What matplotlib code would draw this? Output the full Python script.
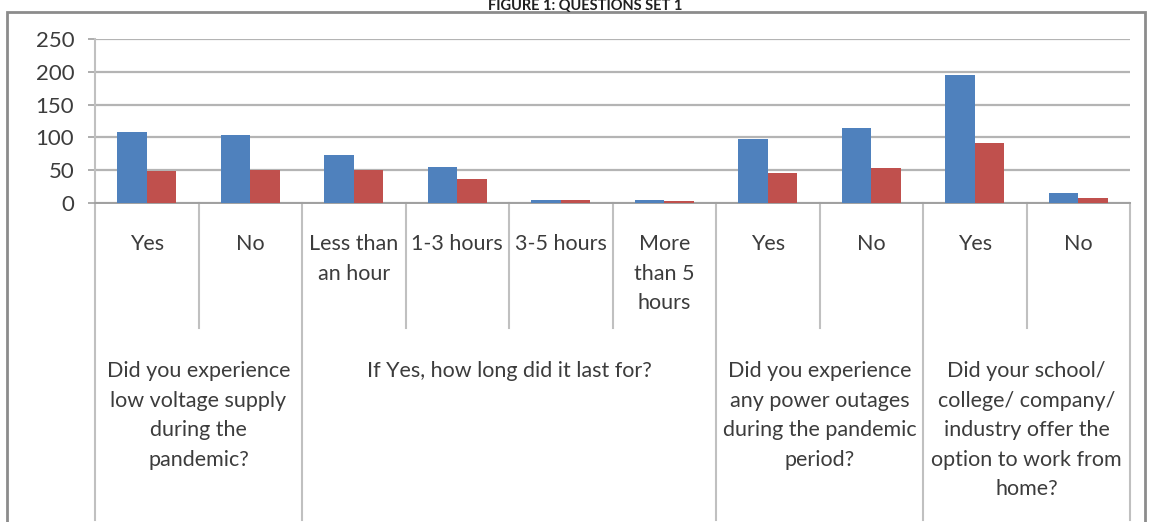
import matplotlib.pyplot as plt
from matplotlib.lines import Line2D
from matplotlib.patches import Rectangle
import numpy as np

plt.rcParams['font.family'] = ['Lato', 'DejaVu Sans']

# answers on the x axis, grouped by question
answers = ["Yes", "No", "Less than\nan hour", "1-3 hours", "3-5 hours",
           "More\nthan 5\nhours", "Yes", "No", "Yes", "No"]
questions = ["Did you experience\nlow voltage supply\nduring the\npandemic?",
             "If Yes, how long did it last for?",
             "Did you experience\nany power outages\nduring the pandemic\nperiod?",
             "Did your school/\ncollege/ company/\nindustry offer the\noption to work from\nhome?"]
group_edges = [-0.5, 1.5, 5.5, 7.5, 9.5]

series_blue = [108, 104, 73, 55, 5, 4, 98, 114, 195, 16]
series_red = [49, 50, 50, 37, 4, 3, 45, 53, 91, 7]

W, H = 1150, 522
fig = plt.figure(figsize=(W / 100, H / 100), dpi=100)

# plot area in pixels: left 95, right 1130, top 39, zero line 203
ax = fig.add_axes([95 / W, 1 - 203 / H, (1130 - 95) / W, (203 - 39) / H])
ax.set_zorder(2)

x = np.arange(len(answers))
bw = 1 / 3.5
ax.bar(x - bw / 2, series_blue, bw, color="#4F81BD", zorder=3)
ax.bar(x + bw / 2, series_red, bw, color="#C0504D", zorder=3)

ax.set_xlim(-0.5, 9.5)
ax.set_ylim(0, 250)
ax.set_yticks(range(0, 251, 50))
ax.yaxis.grid(True, color="#B4B4B4", lw=1.6)
ax.set_axisbelow(True)
ax.set_xticks([])
ax.tick_params(axis="y", length=5, width=1.2, color="#A0A0A0", pad=10,
               labelsize=16, labelcolor="#3C3C3C")
for s in ["top", "right"]:
    ax.spines[s].set_visible(False)
ax.spines["bottom"].set_color("#A0A0A0")
ax.spines["bottom"].set_linewidth(1.4)
ax.spines["left"].set_visible(False)

ah = 203 - 39
def ay(py):
    # pixel row -> axes fraction
    return (203 - py) / ah

tr = ax.get_xaxis_transform()
divider = "#C0C0C0"

# short dividers between answers, long ones between questions
for e in np.arange(-0.5, 10, 1.0):
    bottom = 520 if e in group_edges else 328
    ax.add_line(Line2D([e, e], [ay(203), ay(bottom)], transform=tr,
                       color=divider, lw=1.5, clip_on=False))
ax.add_line(Line2D([-0.5, -0.5], [ay(203), ay(39)], transform=tr,
                   color=divider, lw=1.5, clip_on=False))

for i, lab in enumerate(answers):
    ax.text(i, ay(234), lab, transform=tr, ha="center", va="top",
            fontsize=15.5, color="#3C3C3C", linespacing=1.6)

for k, q in enumerate(questions):
    cx = (group_edges[k] + group_edges[k + 1]) / 2
    ax.text(cx, ay(361), q, transform=tr, ha="center", va="top",
            fontsize=15.5, color="#3C3C3C", linespacing=1.6)

# outer chart frame
fig.patches.append(Rectangle((7 / W, -0.1), (1145 - 7) / W, 1.1 - 12 / H,
                             transform=fig.transFigure, fill=False,
                             ec="#8C8C8C", lw=2, zorder=0))

fig.text(585 / W, 1 - 10 / H, "FIGURE 1: QUESTIONS SET 1", ha="center",
         va="baseline", fontsize=10.5, fontweight="bold", color="#202020")

fig.savefig("out.png", dpi=100)
